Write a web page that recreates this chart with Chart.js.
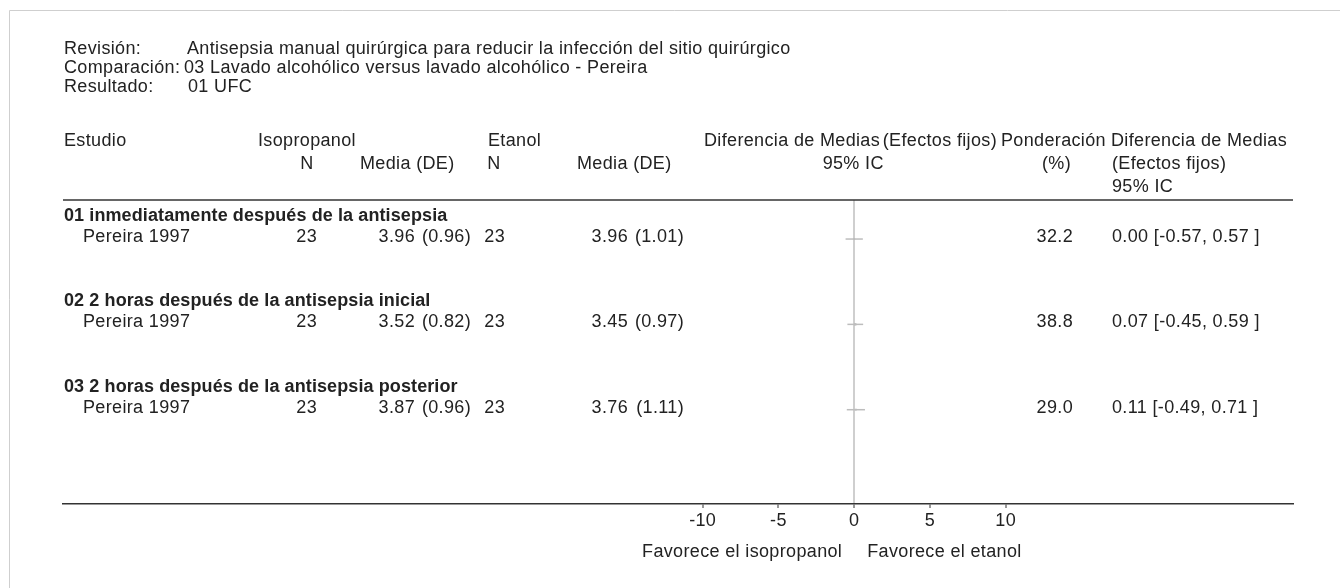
<!DOCTYPE html>
<html lang="es">
<head>
<meta charset="utf-8">
<title>Antisepsia manual quirúrgica – 01 UFC</title>
<script src="https://cdn.jsdelivr.net/npm/chart.js@4/dist/chart.umd.min.js"></script>
<style>
  html, body { margin: 0; padding: 0; background: #fff; }
  #wrap { position: relative; width: 1340px; height: 588px; }
  canvas { display: block; }
</style>
</head>
<body>
<div id="wrap"><canvas id="forest" width="1340" height="588"></canvas></div>
<script>
// ---- Data ---------------------------------------------------------------
const reviewInfo = [
  ['Revisión:', 'Antisepsia manual quirúrgica para reducir la infección del sitio quirúrgico'],
  ['Comparación:', '03 Lavado alcohólico versus lavado alcohólico - Pereira'],
  ['Resultado:', '01 UFC']
];
const subgroups = [
  '01 inmediatamente después de la antisepsia',
  '02 2 horas después de la antisepsia inicial',
  '03 2 horas después de la antisepsia posterior'
];
const studies   = ['Pereira 1997', 'Pereira 1997', 'Pereira 1997'];
const isoN      = [23, 23, 23];
const isoMean   = [3.96, 3.52, 3.87];
const isoSD     = [0.96, 0.82, 0.96];
const etaN      = [23, 23, 23];
const etaMean   = [3.96, 3.45, 3.76];
const etaSD     = [1.01, 0.97, 1.11];
const weights   = [32.2, 38.8, 29.0];
const meanDiff  = [0.00, 0.07, 0.11];
const ciLow     = [-0.57, -0.45, -0.49];
const ciHigh    = [0.57, 0.59, 0.71];
const tickValues = [-10, -5, 0, 5, 10];
const favourLeft  = 'Favorece el isopropanol';
const favourRight = 'Favorece el etanol';

// ---- Layout helpers -----------------------------------------------------
const FAMILY = '"Liberation Sans", Arial, sans-serif';
const FONT = '18px ' + FAMILY;
const BOLD = 'bold 18px ' + FAMILY;
const TEXT = '#222';
const SPACING = '0.35px';
// row positions on the (reversed) y scale: subgroup heading, then its study
const headingRow = i => 0.75 + 4 * i;
const studyRow   = i => 1.83 + 4 * i;

const f2 = v => v.toFixed(2);
const f1 = v => v.toFixed(1);

// CI whiskers as two-point line datasets, estimates as small squares
const datasets = studies.map((s, i) => ({
  type: 'line',
  data: [{x: ciLow[i], y: studyRow(i)}, {x: ciHigh[i], y: studyRow(i)}],
  borderColor: '#bdbdbd',
  borderWidth: 1.5,
  pointRadius: 0
}));
datasets.push({
  type: 'scatter',
  data: meanDiff.map((v, i) => ({x: v, y: studyRow(i)})),
  pointStyle: 'rect',
  pointRadius: weights.map(w => w / 24),
  backgroundColor: '#b5b5b5',
  borderColor: '#b5b5b5',
  borderWidth: 0
});

function txt(ctx, s, x, y, align, font) {
  ctx.font = font || FONT;
  ctx.textAlign = align || 'left';
  ctx.fillText(s, x, y);
}

const tablePlugin = {
  id: 'forestTable',
  beforeDraw(chart) {
    const ctx = chart.ctx;
    ctx.letterSpacing = SPACING;
    ctx.save();
    ctx.strokeStyle = '#cfcfcf';
    ctx.lineWidth = 1;
    ctx.beginPath();
    ctx.moveTo(9.5, 588);
    ctx.lineTo(9.5, 10.5);
    ctx.lineTo(1340, 10.5);
    ctx.stroke();
    ctx.restore();
  },
  afterDraw(chart) {
    const ctx = chart.ctx;
    const {left, right, top} = chart.chartArea;
    const ys = chart.scales.y;
    const xs = chart.scales.x;
    ctx.save();
    ctx.letterSpacing = SPACING;
    ctx.fillStyle = TEXT;
    ctx.textBaseline = 'middle';

    // review block
    const valueX = [187, 184, 188];
    reviewInfo.forEach((r, i) => {
      txt(ctx, r[0], 64, 49 + 19 * i);
      txt(ctx, r[1], valueX[i], 49 + 19 * i);
    });

    // column headings
    txt(ctx, 'Estudio', 64, 141);
    txt(ctx, 'Isopropanol', 258, 141);
    txt(ctx, 'N', 307, 164, 'center');
    txt(ctx, 'Media (DE)', 360, 164);
    txt(ctx, 'Etanol', 488, 141);
    txt(ctx, 'N', 494, 164, 'center');
    txt(ctx, 'Media (DE)', 577, 164);
    txt(ctx, 'Diferencia de Medias', 704, 141);
    txt(ctx, '(Efectos fijos)', 997, 141, 'right');
    txt(ctx, '95% IC', xs.getPixelForValue(0) - 1, 164, 'center');
    txt(ctx, 'Ponderación', 1001, 141);
    txt(ctx, '(%)', 1071, 164, 'right');
    txt(ctx, 'Diferencia de Medias', 1111, 141);
    txt(ctx, '(Efectos fijos)', 1112, 164);
    txt(ctx, '95% IC', 1112, 187);

    // top rule of the table
    ctx.strokeStyle = '#333';
    ctx.lineWidth = 1.5;
    ctx.beginPath();
    ctx.moveTo(left, top);
    ctx.lineTo(right, top);
    ctx.stroke();

    // subgroups and study rows
    subgroups.forEach((g, i) => {
      const yh = ys.getPixelForValue(headingRow(i));
      const y = ys.getPixelForValue(studyRow(i)) - 2;
      ctx.letterSpacing = '0.1px';
      txt(ctx, g, 64, yh, 'left', BOLD);
      ctx.letterSpacing = SPACING;
      txt(ctx, studies[i], 83, y);
      txt(ctx, String(isoN[i]), 317, y, 'right');
      txt(ctx, f2(isoMean[i]), 415, y, 'right');
      txt(ctx, '(' + f2(isoSD[i]) + ')', 471, y, 'right');
      txt(ctx, String(etaN[i]), 505, y, 'right');
      txt(ctx, f2(etaMean[i]), 628, y, 'right');
      txt(ctx, '(' + f2(etaSD[i]) + ')', 684, y, 'right');
      txt(ctx, f1(weights[i]), 1073, y, 'right');
      txt(ctx, f2(meanDiff[i]) + ' [' + f2(ciLow[i]) + ', ' + f2(ciHigh[i]) + ' ]', 1112, y);
    });

    // favour labels under the axis
    const x0 = xs.getPixelForValue(0);
    txt(ctx, favourLeft, x0 - 12, 552, 'right');
    txt(ctx, favourRight, x0 + 13, 552, 'left');
    ctx.restore();
  }
};

new Chart(document.getElementById('forest'), {
  data: { datasets },
  options: {
    responsive: false,
    animation: false,
    devicePixelRatio: 1,
    layout: { padding: { left: 63, right: 47, top: 200, bottom: 44 } },
    plugins: { legend: { display: false }, tooltip: { enabled: false } },
    scales: {
      x: {
        type: 'linear',
        min: -52.22,
        max: 28.96,
        afterBuildTicks: s => { s.ticks = tickValues.map(v => ({ value: v })); },
        afterFit: s => { s.height = 40; },
        ticks: {
          color: TEXT,
          font: { family: FAMILY, size: 18 },
          padding: 2,
          maxRotation: 0,
          autoSkip: false,
          callback: v => String(v)
        },
        grid: {
          drawOnChartArea: true,
          color: c => (c.tick && c.tick.value === 0) ? '#cfcfcf' : 'rgba(0,0,0,0)',
          lineWidth: 2,
          tickColor: '#333',
          tickLength: 4,
          tickWidth: 1
        },
        border: { display: true, color: '#333', width: 1.5 }
      },
      y: {
        type: 'linear',
        display: false,
        reverse: true,
        min: 0,
        max: 14.25
      }
    }
  },
  plugins: [tablePlugin]
});
</script>
</body>
</html>
